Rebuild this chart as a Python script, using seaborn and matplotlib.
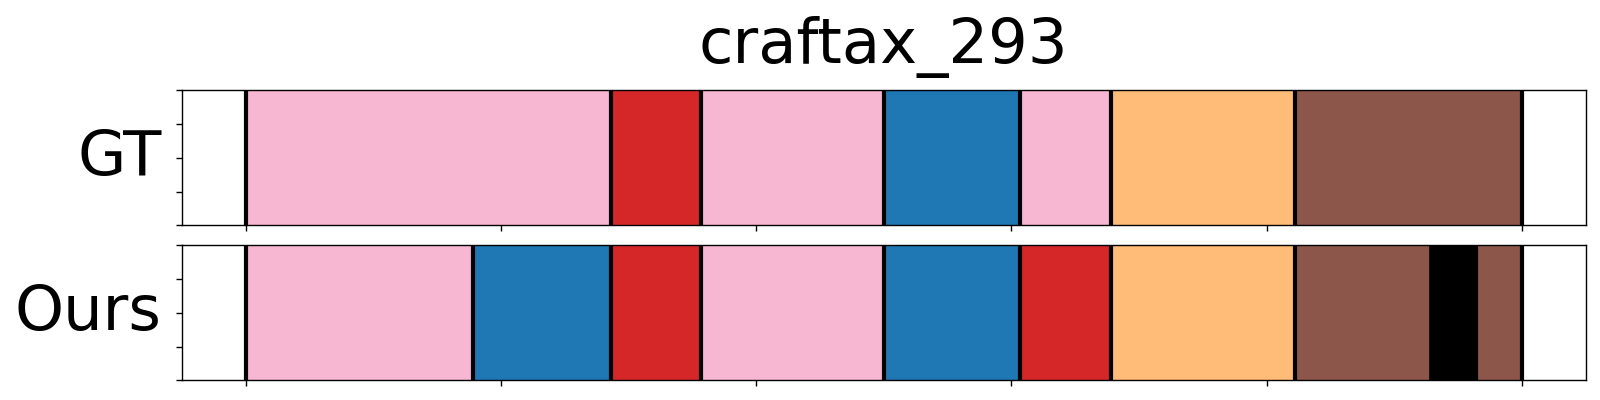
import matplotlib
matplotlib.use("Agg")
import matplotlib.pyplot as plt
import seaborn as sns
import pandas as pd

sns.set_theme(style="ticks")
plt.rcParams["font.family"] = ["DejaVu Sans"]
plt.rcParams["axes.edgecolor"] = "black"
plt.rcParams["axes.linewidth"] = 1.0
plt.rcParams["xtick.color"] = "black"
plt.rcParams["ytick.color"] = "black"
plt.rcParams["text.color"] = "black"
plt.rcParams["axes.labelcolor"] = "black"
plt.rcParams["axes.titlecolor"] = "black"

title = "craftax_293"
rows = ["GT", "Ours"]

# segments per row: start, end, colour
gt_start = [0, 143, 178.5, 250, 303.5, 339, 411]
gt_end = [143, 178.5, 250, 303.5, 339, 411, 500]
gt_color = ["#f7b6d2", "#d62728", "#f7b6d2", "#1f77b4", "#f7b6d2", "#ffbb78", "#8c564b"]
gt_bounds = [0, 143, 178.5, 250, 303.5, 339, 411, 500]

ours_start = [0, 89, 143, 178.5, 250, 303.5, 339, 411, 463.5, 483]
ours_end = [89, 143, 178.5, 250, 303.5, 339, 411, 463.5, 483, 500]
ours_color = ["#f7b6d2", "#1f77b4", "#d62728", "#f7b6d2", "#1f77b4", "#d62728",
              "#ffbb78", "#8c564b", "#000000", "#8c564b"]
ours_bounds = [0, 89, 143, 178.5, 250, 303.5, 339, 411, 500]

segs = {
    "GT": pd.DataFrame({"start": gt_start, "end": gt_end, "color": gt_color}),
    "Ours": pd.DataFrame({"start": ours_start, "end": ours_end, "color": ours_color}),
}
bounds = {"GT": gt_bounds, "Ours": ours_bounds}

fig, axes = plt.subplots(2, 1, figsize=(16, 4), dpi=100)
fig.subplots_adjust(left=0.1136, right=0.991, top=0.774, bottom=0.049, hspace=0.148)

for ax, name in zip(axes, rows):
    df = segs[name]
    ax.barh(0.5, df["end"] - df["start"], left=df["start"], height=1.0,
            color=df["color"], edgecolor=df["color"], linewidth=0.5)
    for b in bounds[name]:
        ax.axvline(b, color="black", linewidth=3)
    ax.set_ylim(0, 1)
    ax.set_xlim(-25, 525)
    ax.set_xticks([0, 100, 200, 300, 400, 500])
    ax.set_yticks([0, 0.25, 0.5, 0.75, 1.0])
    ax.set_xticklabels([])
    ax.set_yticklabels([])
    ax.tick_params(length=4, width=1)
    ax.set_ylabel(name, fontsize=45, rotation=0, ha="right", va="center", labelpad=7)
    sns.despine(ax=ax, top=False, right=False)

axes[0].set_title(title, fontsize=45, pad=20)

fig.savefig("out.png", dpi=100)
